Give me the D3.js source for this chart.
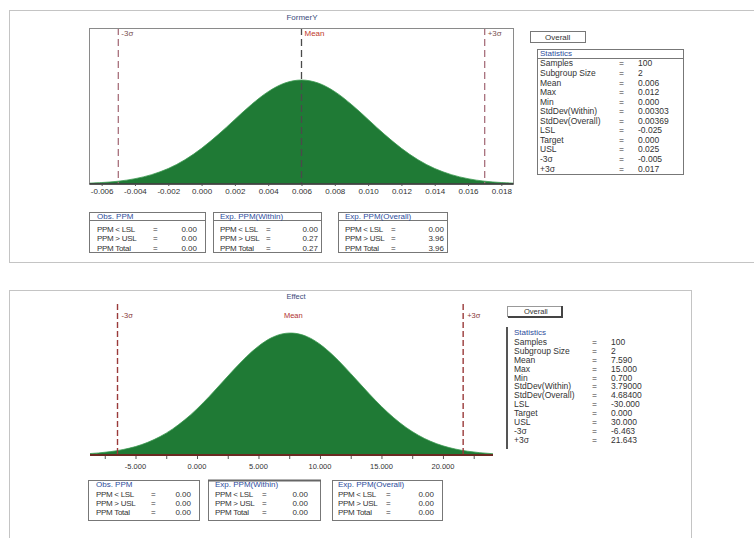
<!DOCTYPE html>
<html>
<head>
<meta charset="utf-8">
<script src="https://cdn.jsdelivr.net/npm/d3@7"></script>
<style>
  html, body { margin: 0; padding: 0; background: #fff; }
  svg text { font-family: "Liberation Sans", Arial, sans-serif; }
</style>
</head>
<body>
<svg id="chart" width="754" height="538"></svg>
<script>
// ---------- Top panel data ----------
const topTitle = "FormerY";
const topX = [-0.007,-0.006,-0.005,-0.004,-0.003,-0.002,-0.001,0.000,0.001,0.002,0.003,0.004,0.005,0.006,
              0.007,0.008,0.009,0.010,0.011,0.012,0.013,0.014,0.015,0.016,0.017,0.018,0.019];
const topDensity = [0.007,0.014,0.027,0.051,0.090,0.149,0.233,0.343,0.475,0.621,0.765,0.888,0.971,1.000,
                    0.971,0.888,0.765,0.621,0.475,0.343,0.233,0.149,0.090,0.051,0.027,0.014,0.007];
const topTicks = [-0.006,-0.004,-0.002,0.000,0.002,0.004,0.006,0.008,0.010,0.012,0.014,0.016,0.018];
const topTickLabels = ["-0.006","-0.004","-0.002","0.000","0.002","0.004","0.006","0.008","0.010","0.012","0.014","0.016","0.018"];
const topMarkerNames = ["-3σ","Mean","+3σ"];
const topMarkerValues = [-0.005, 0.006, 0.017];
const topStatLabels = ["Samples","Subgroup Size","Mean","Max","Min","StdDev(Within)","StdDev(Overall)","LSL","Target","USL","-3σ","+3σ"];
const topStatValues = ["100","2","0.006","0.012","0.000","0.00303","0.00369","-0.025","0.000","0.025","-0.005","0.017"];
const ppmTitles = ["Obs. PPM","Exp. PPM(Within)","Exp. PPM(Overall)"];
const ppmLabels = ["PPM < LSL","PPM > USL","PPM Total"];
const topPpmValues = [["0.00","0.00","0.00"],["0.00","0.27","0.27"],["0.00","3.96","3.96"]];

// ---------- Bottom panel data ----------
const botTitle = "Effect";
const botX = [-9,-8,-7,-6,-5,-4,-3,-2,-1,0,1,2,3,4,5,6,7,8,9,10,11,12,13,14,15,16,17,18,19,20,21,22,23,24,25];
const botDensity = [0.010,0.017,0.028,0.045,0.069,0.104,0.151,0.212,0.288,0.378,0.480,0.590,0.700,0.804,0.892,0.958,0.994,
                    0.997,0.968,0.908,0.823,0.722,0.612,0.502,0.398,0.305,0.226,0.162,0.112,0.075,0.049,0.031,0.019,0.011,0.006];
const botTicks = [-7.5,-5,-2.5,0,2.5,5,7.5,10,12.5,15,17.5,20,22.5];
const botLabelTicks = [-5,0,5,10,15,20];
const botTickLabels = ["-5.000","0.000","5.000","10.000","15.000","20.000"];
const botMarkerNames = ["-3σ","Mean","+3σ"];
const botMarkerValues = [-6.463, 7.59, 21.643];
const botStatValues = ["100","2","7.590","15.000","0.700","3.79000","4.68400","-30.000","0.000","30.000","-6.463","21.643"];
const botPpmValues = [["0.00","0.00","0.00"],["0.00","0.00","0.00"],["0.00","0.00","0.00"]];

// ---------- drawing ----------
const svg = d3.select("#chart");
const GREEN = "#1f7a35", TXT = "#333", BLUE = "#2d4c9c", FS = 8.5;

// panels
svg.append("rect").attr("x",9.5).attr("y",10.5).attr("width",760).attr("height",252)
  .attr("fill","none").attr("stroke","#c4c4c4");
svg.append("rect").attr("x",9.5).attr("y",290.5).attr("width",682).attr("height",250)
  .attr("fill","none").attr("stroke","#c4c4c4");

function text(g, x, y, s, opts = {}) {
  const t = g.append("text").attr("x",x).attr("y",y).attr("dy","0.35em")
    .attr("font-size", opts.size || FS).attr("fill", opts.fill || TXT)
    .attr("text-anchor", opts.anchor || "start").text(s);
  if (opts.ls) t.attr("letter-spacing", opts.ls);
  return t;
}

// ===== TOP CHART =====
const tx = d3.scaleLinear().domain([-0.0067, 0.0187]).range([90, 513]);
const ty = d3.scaleLinear().domain([0, 1.5]).range([184, 28]);
const gt = svg.append("g");
text(gt, 302, 17, topTitle, {anchor:"middle", fill:"#3a4a7a", size:8});
gt.append("defs").append("clipPath").attr("id","clipTop").append("rect")
  .attr("x",90).attr("y",28).attr("width",423).attr("height",156);
const areaT = d3.area().x((d,i)=>tx(topX[i])).y0(ty(0)).y1(d=>ty(d)).curve(d3.curveCatmullRom);
gt.append("path").datum(topDensity).attr("d",areaT).attr("clip-path","url(#clipTop)")
  .attr("fill",GREEN).attr("stroke","#3c9a52").attr("stroke-width",0.8);
// markers
topMarkerValues.forEach((v,i)=>{
  const isMean = i === 1;
  gt.append("line").attr("x1",tx(v)).attr("x2",tx(v)).attr("y1",ty(1.5)).attr("y2",ty(0))
    .attr("stroke", isMean ? "#4a4a4a" : "#a8707c").attr("stroke-width",1.3)
    .attr("stroke-dasharray","7,4");
  text(gt, tx(v)+3, 33, topMarkerNames[i], {fill: isMean ? "#c0392b" : "#7a5050", size:8});
});
// frame
gt.append("rect").attr("x",89.5).attr("y",28.5).attr("width",424).attr("height",155.5)
  .attr("fill","none").attr("stroke","#8a8a8a");
gt.append("line").attr("x1",89.5).attr("x2",513.5).attr("y1",184).attr("y2",184)
  .attr("stroke","#333").attr("stroke-width",1.5);
// axis
const axT = gt.append("g").attr("transform","translate(0,184)")
  .call(d3.axisBottom(tx).tickValues(topTicks).tickSize(2).tickFormat((d,i)=>topTickLabels[i]));
axT.select(".domain").remove();
axT.selectAll("line").attr("stroke","#555");
axT.selectAll("text").attr("font-size",8).attr("fill",TXT).attr("dy","0.6em");

// stats box
function statsBox(g, bx, by, bw, bh, headerY, sepY, rowY0, rowStep, labX, eqX, valX, values, thickLeft) {
  if (thickLeft) {
    g.append("line").attr("x1",bx).attr("x2",bx).attr("y1",by).attr("y2",by+bh)
      .attr("stroke","#555").attr("stroke-width",2);
  } else {
    g.append("rect").attr("x",bx+0.5).attr("y",by+0.5).attr("width",bw).attr("height",bh)
      .attr("fill","none").attr("stroke","#777");
    g.append("line").attr("x1",bx+0.5).attr("x2",bx+bw+0.5).attr("y1",sepY).attr("y2",sepY)
      .attr("stroke","#777");
  }
  text(g, labX, headerY, "Statistics", {fill:BLUE, size:8});
  topStatLabels.forEach((l,i)=>{
    const y = rowY0 + i*rowStep;
    text(g, labX, y, l);
    text(g, eqX, y, "=");
    text(g, valX, y, values[i]);
  });
}
// Overall box top
gt.append("rect").attr("x",530.5).attr("y",31.5).attr("width",55).attr("height",11)
  .attr("fill","none").attr("stroke","#777");
text(gt, 545, 37, "Overall", {size:8});
statsBox(gt, 537, 49, 146, 125, 53.5, 58.5, 63.5, 9.55, 540, 619, 638, topStatValues, false);

// PPM boxes
function ppmBoxes(g, boxes, vals, y0, h, headerY, sepY, rowYs, withSep, thickTop2) {
  boxes.forEach((b,k)=>{
    g.append("rect").attr("x",b.x+0.5).attr("y",y0+0.5).attr("width",b.w).attr("height",h)
      .attr("fill","none").attr("stroke","#777");
    if (thickTop2 && k===1) {
      g.append("line").attr("x1",b.x).attr("x2",b.x+b.w+1).attr("y1",y0+0.5).attr("y2",y0+0.5)
        .attr("stroke","#666").attr("stroke-width",2);
    }
    if (withSep) g.append("line").attr("x1",b.x+0.5).attr("x2",b.x+b.w+0.5).attr("y1",sepY).attr("y2",sepY)
      .attr("stroke","#777");
    text(g, b.lab, headerY, ppmTitles[k], {fill:BLUE, size:8});
    ppmLabels.forEach((l,i)=>{
      text(g, b.lab, rowYs[i], l, {size:8, ls:-0.3});
      text(g, b.eq, rowYs[i], "=", {size:8});
      text(g, b.val, rowYs[i], vals[k][i], {anchor:"end", size:8});
    });
  });
}
ppmBoxes(gt, [
  {x:89, w:116, lab:97, eq:153, val:197},
  {x:213, w:108, lab:220, eq:266, val:318},
  {x:338, w:109, lab:345, eq:391, val:444}
], topPpmValues, 212, 40, 216, 220.5, [229, 238.5, 248], true, false);

// ===== BOTTOM CHART =====
const bx = d3.scaleLinear().domain([-8.70, 24.07]).range([90, 493]);
const by = d3.scaleLinear().domain([0, 1.213]).range([455, 307]);
const gb = svg.append("g");
text(gb, 296, 296, botTitle, {anchor:"middle", fill:"#3a4a7a", size:7.5});
gb.append("defs").append("clipPath").attr("id","clipBot").append("rect")
  .attr("x",90).attr("y",300).attr("width",403).attr("height",156);
const areaB = d3.area().x((d,i)=>bx(botX[i])).y0(by(0)).y1(d=>by(d)).curve(d3.curveCatmullRom);
gb.append("path").datum(botDensity).attr("d",areaB).attr("clip-path","url(#clipBot)")
  .attr("fill",GREEN).attr("stroke","#3c9a52").attr("stroke-width",0.8);
botMarkerValues.forEach((v,i)=>{
  if (i !== 1) {
    gb.append("line").attr("x1",bx(v)).attr("x2",bx(v)).attr("y1",by(1.213)-3).attr("y2",by(0))
      .attr("stroke","#9a3a3a").attr("stroke-width",1.4).attr("stroke-dasharray","6,3");
    text(gb, bx(v)+4, 315, botMarkerNames[i], {fill:"#8a3a3a", size:7.5});
  } else {
    text(gb, bx(v)+3, 315, botMarkerNames[i], {fill:"#b03030", size:7.5, anchor:"middle"});
  }
});
gb.append("line").attr("x1",90).attr("x2",493).attr("y1",455).attr("y2",455)
  .attr("stroke","#6a2a22").attr("stroke-width",2);
const axB = gb.append("g").attr("transform","translate(0,456)")
  .call(d3.axisBottom(bx).tickValues(botTicks).tickSize(3).tickFormat(""));
axB.select(".domain").remove();
axB.selectAll("line").attr("stroke","#555");
botLabelTicks.forEach((v,i)=>{
  text(gb, bx(v), 466, botTickLabels[i], {anchor:"middle", size:7.5});
});
// Overall box bottom (3D look)
gb.append("rect").attr("x",507.5).attr("y",306.5).attr("width",54).attr("height",10)
  .attr("fill","none").attr("stroke","#999");
gb.append("polyline").attr("points","508,317 562,317 562,306")
  .attr("fill","none").attr("stroke","#444").attr("stroke-width",2);
text(gb, 524, 311.5, "Overall", {size:7.5});
statsBox(gb, 507, 327, 0, 122, 332, 0, 342, 8.9, 514, 592, 611, botStatValues, true);

ppmBoxes(gb, [
  {x:88, w:111, lab:96, eq:151, val:191},
  {x:208, w:112, lab:215, eq:262, val:308},
  {x:332, w:110, lab:338, eq:386, val:434}
], botPpmValues, 480, 40, 484.5, 0, [494, 503, 512], false, true);
</script>
</body>
</html>
